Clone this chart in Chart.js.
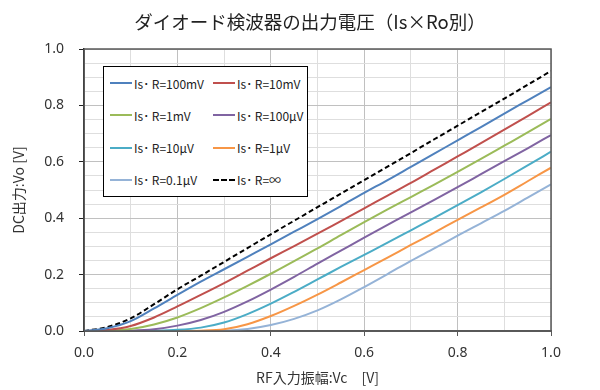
<!DOCTYPE html>
<html>
<head>
<meta charset="utf-8">
<script src="https://cdn.jsdelivr.net/npm/chart.js@4/dist/chart.umd.min.js"></script>
<style>
  body { margin: 0; background: #fff; }
  #wrap { position: relative; width: 600px; height: 390px; }
  #title {
    position: absolute; left: 110px; width: 400px; top: 8px; text-align: center;
    font-family: "Noto Sans CJK JP", sans-serif; font-size: 18.5px; color: #222; white-space: nowrap;
  }
  #legend {
    position: absolute; left: 103px; top: 66px; width: 205px; height: 131px;
    box-sizing: border-box; border: 1px solid #000; background: #fff;
    display: grid; grid-template-columns: 103px 100px; grid-template-rows: repeat(4, 1fr);
    padding: 0 0 0 6px;
    font-family: "Noto Sans CJK JP", sans-serif; font-size: 12px; color: #222;
  }
  .item { display: flex; align-items: center; white-space: nowrap; }
  .sw { width: 22px; height: 0; margin-right: 2px; }
</style>
</head>
<body>
<div id="wrap">
  <canvas id="c" width="600" height="390"></canvas>
  <div id="title">ダイオード検波器の出力電圧（Is×Ro別）</div>
  <div id="legend"></div>
</div>
<script>
// RF入力振幅 Vc [V]
const vc = [0, 0.05, 0.1, 0.15, 0.2, 0.25, 0.3, 0.35, 0.4, 0.45, 0.5,
            0.55, 0.6, 0.65, 0.7, 0.75, 0.8, 0.85, 0.9, 0.95, 1.0];

// DC出力 Vo [V]
const vo100mV = [0, 0.010, 0.035, 0.080, 0.128, 0.175, 0.219, 0.263, 0.307, 0.352, 0.397,
                 0.443, 0.490, 0.535, 0.582, 0.629, 0.676, 0.723, 0.771, 0.818, 0.865];
const vo10mV  = [0, 0.004, 0.018, 0.048, 0.087, 0.128, 0.170, 0.214, 0.258, 0.301, 0.345,
                 0.390, 0.435, 0.480, 0.525, 0.572, 0.619, 0.666, 0.714, 0.762, 0.811];
const vo1mV   = [0, 0.001, 0.007, 0.023, 0.048, 0.081, 0.119, 0.160, 0.203, 0.248, 0.293,
                 0.340, 0.386, 0.431, 0.475, 0.519, 0.564, 0.610, 0.657, 0.704, 0.752];
const vo100uV = [0, 0, 0.001, 0.006, 0.019, 0.039, 0.068, 0.105, 0.147, 0.192, 0.239,
                 0.285, 0.331, 0.376, 0.421, 0.465, 0.510, 0.556, 0.602, 0.648, 0.695];
const vo10uV  = [0, 0, 0, 0.001, 0.004, 0.012, 0.030, 0.060, 0.097, 0.139, 0.183,
                 0.227, 0.270, 0.313, 0.357, 0.401, 0.446, 0.492, 0.539, 0.587, 0.636];
const vo1uV   = [0, 0, 0, 0, 0, 0.001, 0.006, 0.024, 0.053, 0.089, 0.129,
                 0.172, 0.216, 0.260, 0.305, 0.349, 0.394, 0.438, 0.483, 0.531, 0.579];
const vo01uV  = [0, 0, 0, 0, 0, 0, 0.001, 0.007, 0.021, 0.043, 0.073,
                 0.112, 0.156, 0.202, 0.249, 0.293, 0.338, 0.382, 0.426, 0.473, 0.520];
const voInf   = [0, 0.014, 0.045, 0.095, 0.148, 0.196, 0.245, 0.294, 0.343, 0.391, 0.439,
                 0.487, 0.535, 0.583, 0.631, 0.680, 0.728, 0.776, 0.824, 0.873, 0.922];

const labels = ['Is･ R=100mV', 'Is･ R=10mV', 'Is･ R=1mV', 'Is･ R=100μV',
                'Is･ R=10μV', 'Is･ R=1μV', 'Is･ R=0.1μV', 'Is･ R=∞'];
const series = [vo100mV, vo10mV, vo1mV, vo100uV, vo10uV, vo1uV, vo01uV, voInf];
const colors = ['#4f81bd', '#c0504d', '#9bbb59', '#8064a2', '#4bacc6', '#f79646', '#95b3d7', '#000000'];

const datasets = series.map(function(s, i) {
  return {
    label: labels[i],
    data: vc.map(function(x, j) { return { x: x, y: s[j] }; }),
    borderColor: colors[i],
    borderWidth: 2,
    borderDash: i === 7 ? [5, 3] : [],
    pointRadius: 0,
    cubicInterpolationMode: 'monotone',
    fill: false
  };
});

// legend (drawn inside the plot like the original)
const leg = document.getElementById('legend');
datasets.forEach(function(d, i) {
  const it = document.createElement('div');
  it.className = 'item';
  const sw = document.createElement('span');
  sw.className = 'sw';
  sw.style.borderTop = '2px ' + (i === 7 ? 'dashed ' : 'solid ') + d.borderColor;
  it.appendChild(sw);
  it.appendChild(document.createTextNode(d.label));
  leg.appendChild(it);
});

const frame = {
  id: 'frame',
  afterDraw: function(chart) {
    const a = chart.chartArea, ctx = chart.ctx;
    ctx.save();
    ctx.strokeStyle = '#595959';
    ctx.lineWidth = 1.5;
    ctx.strokeRect(a.left, a.top, a.right - a.left, a.bottom - a.top);
    ctx.restore();
  }
};

const tickFont = { family: 'Noto Sans', size: 14 };
const jpFont = 'Noto Sans CJK JP';

new Chart(document.getElementById('c'), {
  type: 'line',
  data: { datasets: datasets },
  plugins: [frame],
  options: {
    responsive: false,
    animation: false,
    layout: { padding: { left: 10, right: 49, top: 49, bottom: 2 } },
    plugins: {
      legend: { display: false },
      tooltip: { enabled: false },
      title: { display: false }
    },
    scales: {
      x: {
        type: 'linear', min: 0, max: 1,
        afterFit: function(s) { s.height = 57; },
        ticks: {
          stepSize: 0.1, autoSkip: false, color: '#333', font: tickFont, maxRotation: 0, padding: 9,
          callback: function(v) { return Math.round(v * 10) % 2 === 0 ? v.toFixed(1) : ''; }
        },
        grid: {
          color: function(c) { return c.tick && Math.round(c.tick.value * 10) % 2 === 0 ? '#c0c0c0' : '#dedede'; },
          tickColor: function(c) { return c.tick && Math.round(c.tick.value * 10) % 2 === 0 ? '#595959' : 'rgba(0,0,0,0)'; },
          tickLength: 5
        },
        border: { color: '#595959', width: 2 },
        title: {
          display: true, text: 'RF入力振幅:Vc　[V]', color: '#333',
          font: { family: jpFont, size: 14 }, padding: { top: 4, bottom: 2 }
        }
      },
      y: {
        min: 0, max: 1,
        afterFit: function(s) { s.width = 74; },
        ticks: {
          stepSize: 0.05, autoSkip: false, color: '#333', font: tickFont, padding: 15,
          callback: function(v) { return Math.round(v * 20) % 4 === 0 ? v.toFixed(1) : ''; }
        },
        grid: {
          color: function(c) { return c.tick && Math.round(c.tick.value * 20) % 4 === 0 ? '#c0c0c0' : '#dedede'; },
          tickColor: function(c) { return c.tick && Math.round(c.tick.value * 20) % 4 === 0 ? '#222' : 'rgba(0,0,0,0)'; },
          tickLength: 5
        },
        border: { color: '#000', width: 1.5 },
        title: {
          display: true, text: 'DC出力:Vo [V]', color: '#333',
          font: { family: jpFont, size: 14 }, padding: { top: 0, bottom: 8 }
        }
      }
    }
  }
});
</script>
</body>
</html>
